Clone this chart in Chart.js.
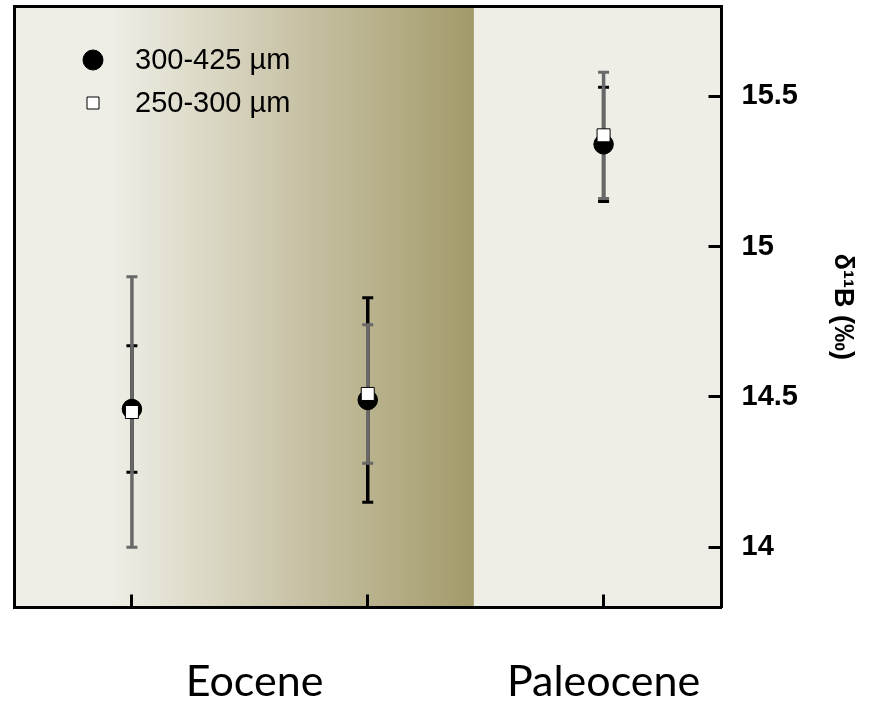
<!DOCTYPE html>
<html>
<head>
<meta charset="utf-8">
<script src="https://cdn.jsdelivr.net/npm/chart.js@4.4.1/dist/chart.umd.min.js"></script>
<style>
  html, body { margin: 0; padding: 0; background: #fff; }
  #wrap { width: 869px; height: 705px; }
</style>
</head>
<body>
<div id="wrap"><canvas id="chart"></canvas></div>
<script>
// one x slot per sample level
const samplePos = [0, 1, 2];
const eraLabels = ['Eocene', 'Paleocene'];
const eraLabelPos = [0.52, 2];

// d11B of the 300-425 µm fraction, with 2 sd
const coarseLabel = '300-425 µm';
const coarseValues = [14.46, 14.49, 15.34];
const coarseErr = [0.21, 0.34, 0.19];

// d11B of the 250-300 µm fraction, with 2 sd
const fineLabel = '250-300 µm';
const fineValues = [14.45, 14.51, 15.37];
const fineErr = [0.45, 0.23, 0.21];

const yTicks = [14, 14.5, 15, 15.5];

// shaded Eocene interval, in x units
const shadeFrom = -0.09;
const shadeTo = 1.45;

const paleBg = '#efeee6';
const darkBg = '#a39a6a';

const backdrop = {
  id: 'backdrop',
  beforeDraw(chart) {
    const { ctx, chartArea: a, scales: { x } } = chart;
    const x0 = x.getPixelForValue(shadeFrom);
    const x1 = x.getPixelForValue(shadeTo);
    ctx.save();
    ctx.fillStyle = paleBg;
    ctx.fillRect(a.left, a.top, a.width, a.height);
    const g = ctx.createLinearGradient(x0, 0, x1, 0);
    g.addColorStop(0, paleBg);
    g.addColorStop(1, darkBg);
    ctx.fillStyle = g;
    ctx.fillRect(x0, a.top, x1 - x0, a.height);
    ctx.restore();
  }
};

// whiskers go under every marker: black ones first, grey on top of them
const errorBars = {
  id: 'errorBars',
  beforeDatasetsDraw(chart) {
    const { ctx, scales: { x, y } } = chart;
    ctx.save();
    ctx.lineCap = 'butt';
    chart.data.datasets.forEach(ds => {
      ds.data.forEach((p, i) => {
        const px = x.getPixelForValue(p.x);
        const lo = y.getPixelForValue(p.y - ds.errors[i]);
        const hi = y.getPixelForValue(p.y + ds.errors[i]);
        ctx.strokeStyle = ds.errColor;
        ctx.lineWidth = 3.5;
        ctx.beginPath();
        ctx.moveTo(px, lo);
        ctx.lineTo(px, hi);
        ctx.stroke();
        ctx.lineWidth = 3;
        ctx.beginPath();
        ctx.moveTo(px - 5.5, lo); ctx.lineTo(px + 5.5, lo);
        ctx.moveTo(px - 5.5, hi); ctx.lineTo(px + 5.5, hi);
        ctx.stroke();
      });
    });
    ctx.restore();
  }
};

const legendBox = {
  id: 'legendBox',
  afterDatasetsDraw(chart) {
    const { ctx, chartArea: a } = chart;
    const cx = a.left + 79;
    ctx.save();
    ctx.font = '29px "Liberation Sans", Arial, sans-serif';
    ctx.textBaseline = 'middle';
    chart.data.datasets.forEach((ds, i) => {
      const cy = a.top + 54 + i * 43;
      ctx.fillStyle = ds.backgroundColor;
      ctx.strokeStyle = ds.borderColor;
      ctx.lineWidth = 1;
      ctx.beginPath();
      if (ds.pointStyle === 'circle') {
        ctx.arc(cx, cy, 10, 0, Math.PI * 2);
      } else {
        ctx.rect(cx - 6, cy - 6, 12, 12);
      }
      ctx.fill();
      ctx.stroke();
      ctx.fillStyle = '#000';
      ctx.fillText(ds.label, a.left + 121, cy + 1);
    });
    ctx.restore();
  }
};

const toPoints = vals => samplePos.map((p, i) => ({ x: p, y: vals[i] }));
const frame = { color: '#000', width: 3 };

new Chart(document.getElementById('chart'), {
  type: 'scatter',
  data: {
    datasets: [
      {
        label: coarseLabel,
        data: toPoints(coarseValues),
        errors: coarseErr,
        errColor: '#000',
        pointStyle: 'circle',
        pointRadius: 9.75,
        backgroundColor: '#000',
        borderColor: '#000',
        borderWidth: 1,
        order: 1
      },
      {
        label: fineLabel,
        data: toPoints(fineValues),
        errors: fineErr,
        errColor: '#686868',
        pointStyle: 'rect',
        pointRadius: 9.2,
        backgroundColor: '#fff',
        borderColor: '#000',
        borderWidth: 1,
        order: 0
      }
    ]
  },
  options: {
    responsive: true,
    maintainAspectRatio: false,
    animation: false,
    layout: { autoPadding: false, padding: { left: 14, top: 6, right: 0, bottom: 0 } },
    plugins: {
      legend: { display: false },
      tooltip: { enabled: false }
    },
    scales: {
      x: {
        type: 'linear',
        position: 'bottom',
        min: -0.5,
        max: 2.5,
        afterBuildTicks: s => {
          const vals = [...new Set([...samplePos, ...eraLabelPos])].sort((a, b) => a - b);
          s.ticks = vals.map(v => ({ value: v }));
        },
        afterFit: s => { s.height = 97.5; },
        ticks: {
          autoSkip: false,
          maxRotation: 0,
          padding: 62,
          color: '#000',
          font: { family: 'Lato', size: 43 },
          callback: v => {
            const i = eraLabelPos.indexOf(v);
            return i < 0 ? '' : eraLabels[i];
          }
        },
        grid: {
          drawOnChartArea: false,
          tickLength: -13,
          tickWidth: 3,
          tickColor: c => samplePos.includes(c.tick.value) ? '#000' : 'rgba(0,0,0,0)'
        },
        border: frame
      },
      xTop: {
        type: 'linear',
        position: 'top',
        min: -0.5,
        max: 2.5,
        grid: { display: false, drawTicks: false },
        ticks: { display: false },
        border: frame
      },
      yLeft: {
        type: 'linear',
        position: 'left',
        min: 13.8,
        max: 15.8,
        grid: { display: false, drawTicks: false },
        ticks: { display: false },
        border: frame
      },
      y: {
        type: 'linear',
        position: 'right',
        min: 13.8,
        max: 15.8,
        afterBuildTicks: s => { s.ticks = yTicks.map(v => ({ value: v })); },
        afterFit: s => {
          s.width = 147.5;
          // labels sit well inside the range, no room needed above/below
          s.paddingTop = 0;
          s.paddingBottom = 0;
        },
        ticks: {
          padding: 33,
          color: '#000',
          font: { family: 'Liberation Sans', size: 29, weight: 'bold' },
          callback: v => String(v)
        },
        grid: {
          drawOnChartArea: false,
          tickLength: -13,
          tickWidth: 3,
          tickColor: '#000'
        },
        border: frame,
        title: {
          display: true,
          text: 'δ¹¹B (‰)',
          color: '#000',
          font: { family: 'Liberation Sans', size: 27, weight: 'bold' },
          padding: { top: 10, bottom: 0 }
        }
      }
    }
  },
  plugins: [backdrop, errorBars, legendBox]
});
</script>
</body>
</html>
